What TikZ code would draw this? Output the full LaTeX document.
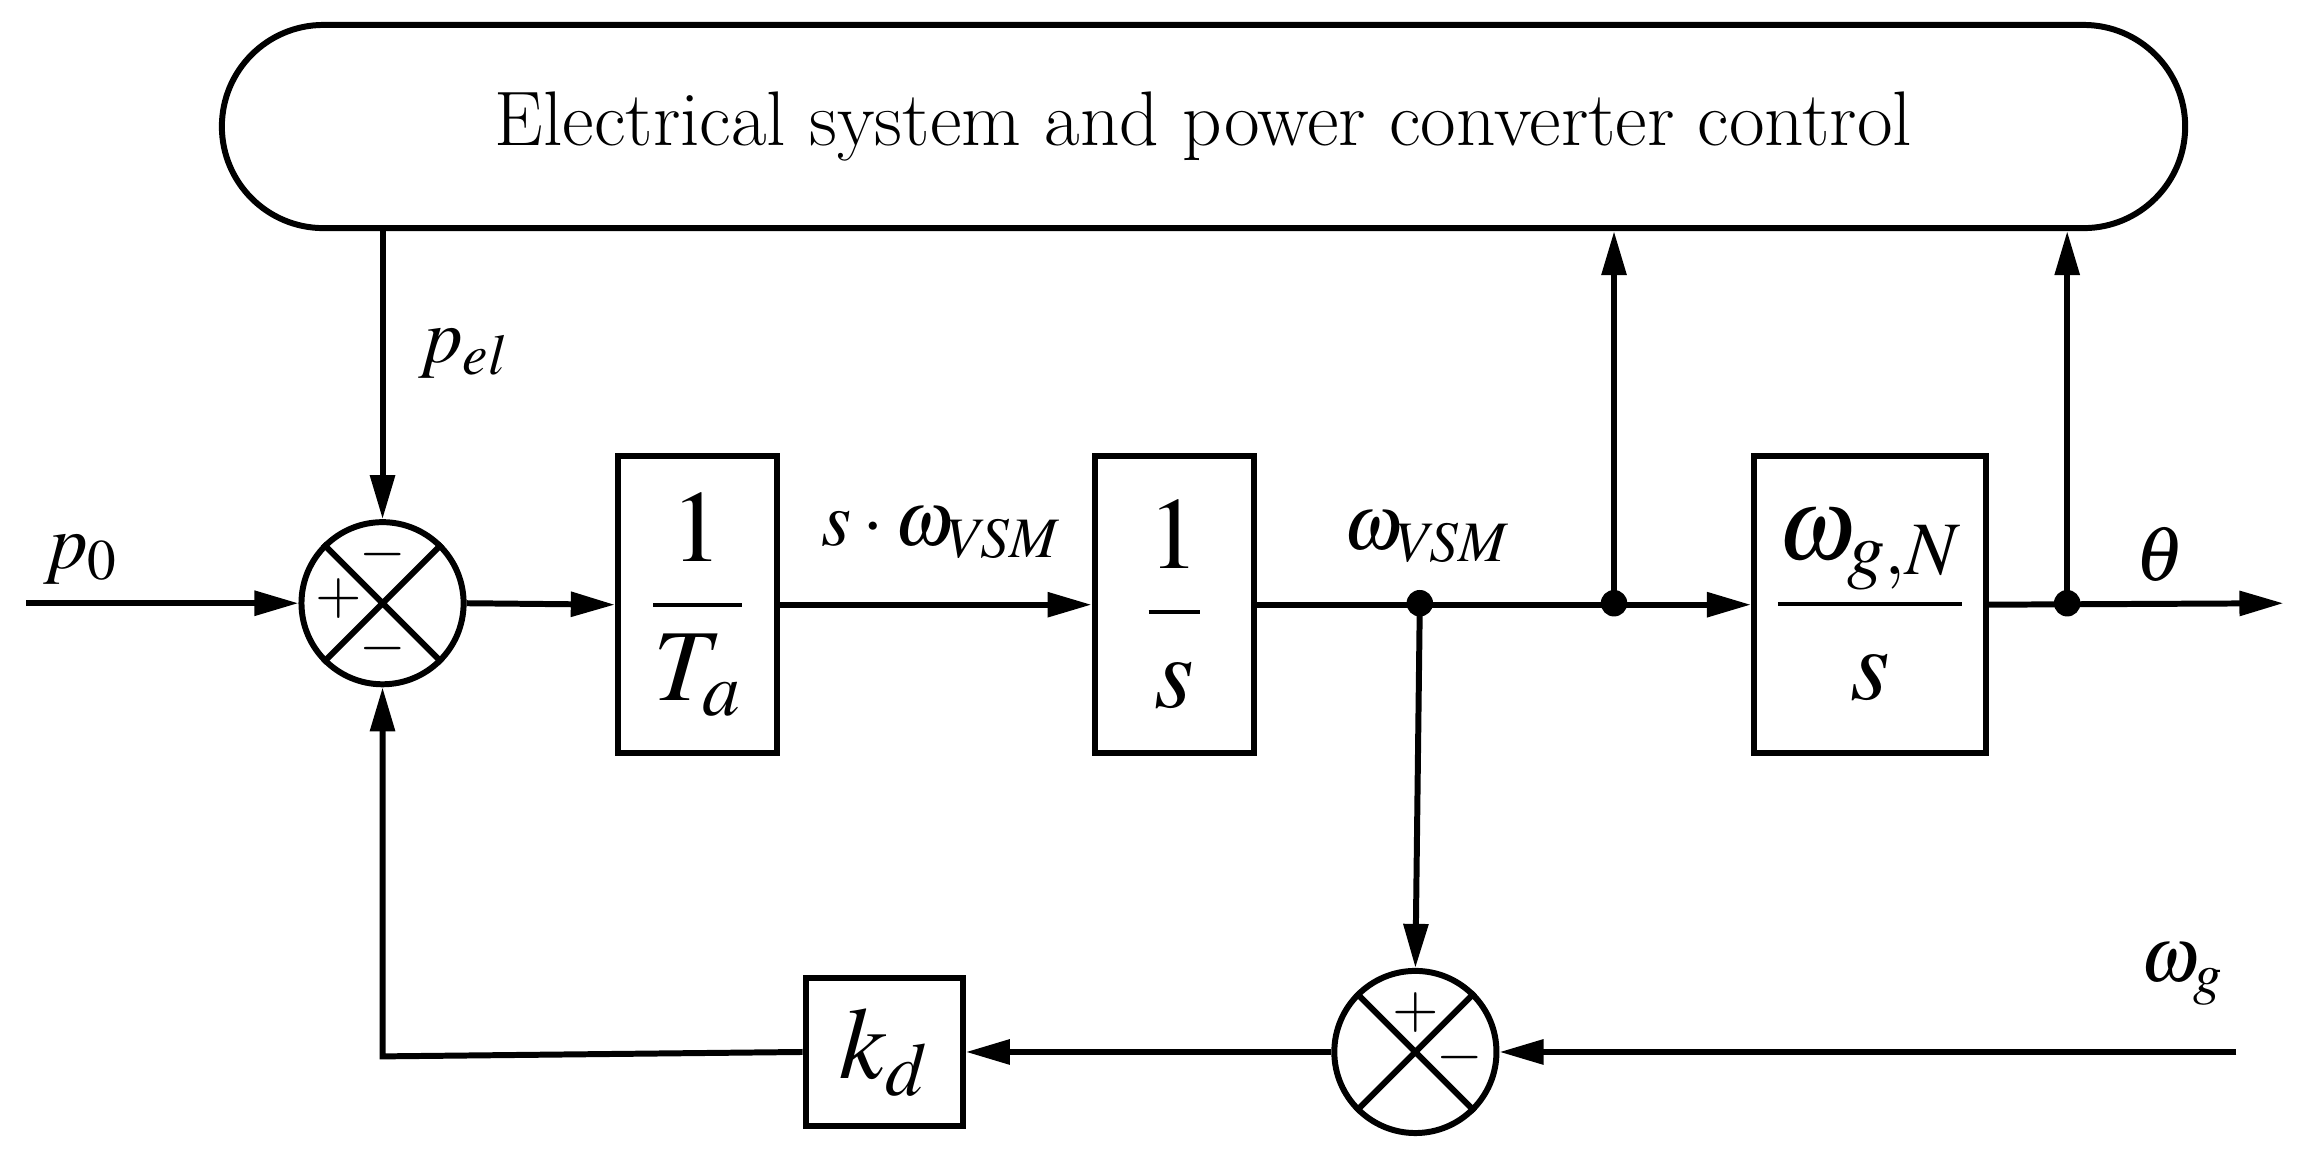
\documentclass[tikz,border=0pt]{standalone}
\usepackage{amsmath}
\usepackage{fontspec}
\setmainfont{Liberation Serif}
\usepackage{mathptmx}
\usetikzlibrary{arrows.meta,shapes.misc}

\tikzstyle{block} = [rectangle, draw=black, line width=1.7pt, minimum width=15.9mm, minimum height=29.7mm, inner sep=0pt, text centered]
\tikzstyle{sum} = [circle, draw=black, line width=1.7pt, minimum size=16.2mm, inner sep=0pt]
\tikzstyle{lbl} = [inner sep=0pt, font=\fontsize{22}{26}\selectfont]
\tikzstyle{sgn} = [inner sep=0pt, font=\fontsize{17}{20}\selectfont]
\tikzstyle{arrow} = [line width=1.7pt, -{Triangle[length=4.4mm,width=2.4mm]}]
\tikzstyle{wire} = [line width=1.7pt]

\begin{document}
\begin{tikzpicture}[x=0.147mm, y=-0.147mm]
  \useasboundingbox (0,0) rectangle (1568,792);
  \node (plant) [rounded rectangle, draw=black, line width=1.7pt, minimum width=198.5mm, minimum height=20.3mm] at (818,86) {\fontsize{22}{26}\selectfont Electrical system and power converter control};
  \node (sum1) [sum] at (260,410) {};
  \draw [wire] (sum1.45) -- (sum1.225) (sum1.135) -- (sum1.315);
  \node [sgn] at (260,377) {$-$};
  \node [sgn] at (230,407) {$+$};
  \node [sgn] at (260,441) {$-$};
  \node (inta) [block] at (474,411) {\fontsize{29}{32}\selectfont$\dfrac{1}{T_a}$};
  \node (ints) [block] at (798,411) {\fontsize{29}{32}\selectfont$\dfrac{1}{s}$};
  \node (theta) [block, minimum width=23.2mm] at (1271,411) {\fontsize{29}{32}\selectfont$\dfrac{\omega_{g,N}}{s}$};
  \node (sum2) [sum] at (962,715) {};
  \draw [wire] (sum2.45) -- (sum2.225) (sum2.135) -- (sum2.315);
  \node [sgn] at (962,688) {$+$};
  \node [sgn] at (992,719) {$-$};
  \node (kd) [block, minimum width=15.7mm, minimum height=14.7mm] at (601,715) {\fontsize{29}{32}\selectfont$k_d$};

  \coordinate (pin) at (18,410);
  \coordinate (wgin) at (1520,715);
  \coordinate (out) at (1552,410);
  \coordinate (dw) at (965,410);
  \coordinate (d1) at (1097,410);
  \coordinate (d2) at (1405,410);
  \coordinate (corner) at (260,718);

  \node [lbl] at (55,380) {$p_0$};
  \node [lbl] at (315,240) {$p_{el}$};
  \node [lbl] at (640,362) {$s\cdot\omega_{V\!SM}$};
  \node [lbl] at (970,365) {$\omega_{V\!SM}$};
  \node [lbl] at (1468,377) {$\theta$};
  \node [lbl] at (1483,662) {$\omega_g$};

  \draw [arrow] (plant.south -| sum1) -- (sum1.north);
  \draw [arrow] (pin) -- (sum1.west);
  \draw [arrow] (sum1.east) -- (inta.west);
  \draw [arrow] (inta.east) -- (ints.west);
  \draw [arrow] (ints.east) -- (theta.west);
  \draw [arrow] (d1) -- (d1 |- plant.south);
  \draw [arrow] (theta.east) -- (out);
  \draw [arrow] (d2) -- (d2 |- plant.south);
  \draw [arrow] (dw) -- (sum2.north);
  \draw [arrow] (wgin) -- (sum2.east);
  \draw [arrow] (sum2.west) -- (kd.east);
  \draw [arrow] (kd.west) -- (corner) -- (sum1.south);
  \fill (dw) circle (9) (d1) circle (9) (d2) circle (9);
\end{tikzpicture}
\end{document}
